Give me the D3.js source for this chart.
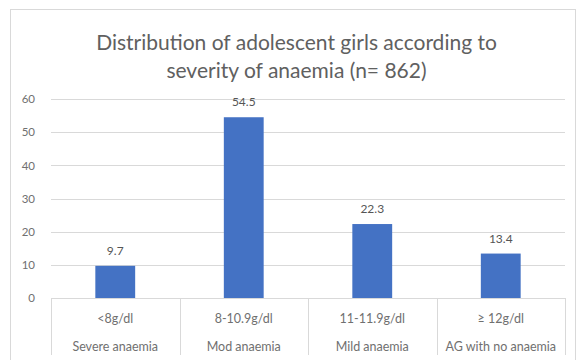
<!DOCTYPE html>
<html>
<head>
<meta charset="utf-8">
<script src="https://cdn.jsdelivr.net/npm/d3@7"></script>
<style>
  html, body { margin: 0; padding: 0; background: #fff; }
  svg { display: block; }
</style>
</head>
<body>
<svg id="chart" width="579" height="360"></svg>
<script>
// Hb ranges (first label row) and anaemia grades (second label row)
const ranges = ["<8g/dl", "8-10.9g/dl", "11-11.9g/dl", "\u2265 12g/dl"];
const grades = ["Severe anaemia", "Mod anaemia", "Mild anaemia", "AG with no anaemia"];
// Percentage of adolescent girls in each group
const percents = [9.7, 54.5, 22.3, 13.4];
const yTicks = [0, 10, 20, 30, 40, 50, 60];
const titleLines = ["Distribution of adolescent girls according to", "severity of anaemia (n= 862)"];

const svg = d3.select("#chart");
const font = "Lato, 'Open Sans', sans-serif";
const titleGrey = "#606060";
const labelGrey = "#707070";

// Chart area frame
svg.append("rect")
  .attr("x", 10.5).attr("y", 9.5)
  .attr("width", 565).attr("height", 360)
  .attr("fill", "#fff").attr("stroke", "#d9d9d9");

const x = d3.scaleBand().domain(ranges).range([51, 565]).paddingInner(0).paddingOuter(0);
const y = d3.scaleLinear().domain([0, 60]).range([298, 99]);

// Title
svg.append("g").selectAll("text").data(titleLines).join("text")
  .attr("x", 296.5).attr("y", (d, i) => 49.5 + i * 28)
  .attr("text-anchor", "middle")
  .attr("font-family", font).attr("font-size", 21)
  .attr("fill", titleGrey)
  .text(d => d);

// Horizontal gridlines
svg.append("g").selectAll("line").data(yTicks.filter(t => t > 0)).join("line")
  .attr("x1", 51).attr("x2", 565)
  .attr("y1", d => Math.round(y(d)) + 0.5).attr("y2", d => Math.round(y(d)) + 0.5)
  .attr("stroke", "#d9d9d9");

// Y axis labels
const yAxis = d3.axisLeft(y).tickValues(yTicks).tickSize(0).tickPadding(0);
const yg = svg.append("g").attr("transform", "translate(35,0)").call(yAxis);
yg.select(".domain").remove();
yg.selectAll("text").attr("font-family", font).attr("font-size", 11.5).attr("fill", labelGrey);

// Bars
const barW = x.bandwidth() * 0.31;
svg.append("g").selectAll("rect").data(percents).join("rect")
  .attr("x", (d, i) => x(ranges[i]) + (x.bandwidth() - barW) / 2)
  .attr("y", d => y(d))
  .attr("width", barW)
  .attr("height", d => y(0) - y(d))
  .attr("fill", "#4472c4");

// Value labels
svg.append("g").selectAll("text").data(percents).join("text")
  .attr("x", (d, i) => x(ranges[i]) + x.bandwidth() / 2)
  .attr("y", d => y(d) - 11)
  .attr("text-anchor", "middle")
  .attr("font-family", font).attr("font-size", 12)
  .attr("fill", "#555555")
  .text(d => d.toFixed(1));

// Category axis: baseline and group dividers
svg.append("line")
  .attr("x1", 51).attr("x2", 565)
  .attr("y1", 298.5).attr("y2", 298.5)
  .attr("stroke", "#d9d9d9");
const bounds = ranges.map(r => x(r)).concat([x.range()[1]]);
svg.append("g").selectAll("line").data(bounds).join("line")
  .attr("x1", d => Math.round(d) + 0.5).attr("x2", d => Math.round(d) + 0.5)
  .attr("y1", 298).attr("y2", 355)
  .attr("stroke", "#d9d9d9");

// Category labels (two rows)
const labels = svg.append("g");
labels.selectAll("text.range").data(ranges).join("text")
  .attr("class", "range")
  .attr("x", d => x(d) + x.bandwidth() / 2).attr("y", 322.5)
  .attr("text-anchor", "middle")
  .attr("font-family", font).attr("font-size", 12.5)
  .attr("fill", labelGrey)
  .text(d => d);
labels.selectAll("text.grade").data(grades).join("text")
  .attr("class", "grade")
  .attr("x", (d, i) => x(ranges[i]) + x.bandwidth() / 2).attr("y", 351)
  .attr("text-anchor", "middle")
  .attr("font-family", font).attr("font-size", 12.5)
  .attr("fill", labelGrey)
  .text(d => d);
</script>
</body>
</html>
